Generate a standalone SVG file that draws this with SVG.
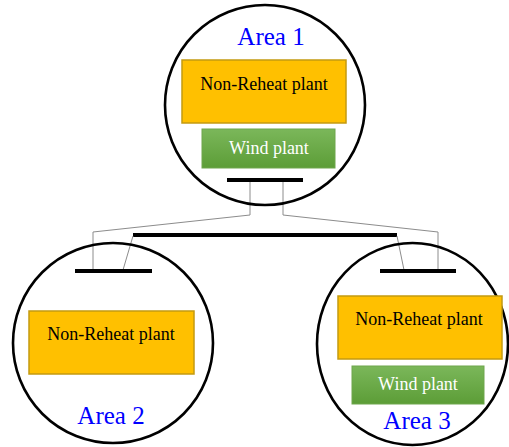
<svg xmlns="http://www.w3.org/2000/svg" width="509" height="447" viewBox="0 0 509 447">
<defs>
<linearGradient id="g" x1="0" y1="0" x2="0" y2="1">
<stop offset="0" stop-color="#7BB75A"/>
<stop offset="1" stop-color="#5C9D37"/>
</linearGradient>
<style>
.area{fill:none;stroke:#000;stroke-width:2.6}
.np{fill:#FFC000;stroke:#C49A10;stroke-width:1.5}
.wp{fill:url(#g);stroke:#6EA64C;stroke-width:1}
.t{font-family:"Liberation Serif","Times New Roman",serif;font-size:18px;text-anchor:middle}
.tw{fill:#fff}
.lab{font-family:"Liberation Serif","Times New Roman",serif;font-size:25px;fill:#0000FF;text-anchor:middle}
.bus{stroke:#000;stroke-width:4}
.wire{fill:none;stroke:#8c8c8c;stroke-width:1}
</style>
</defs>
<rect width="509" height="447" fill="#fff"/>
<g id="connectors">
<line class="bus" x1="133" y1="235" x2="397" y2="235"/>
<polyline class="wire" points="250,181 250,215 93,232 93,270"/>
<polyline class="wire" points="283,181 283,215 438,232 438,270"/>
<line class="wire" x1="133" y1="236" x2="123" y2="270"/>
<line class="wire" x1="397" y1="236" x2="404" y2="270"/>
</g>
<g id="area1">
<circle class="area" cx="265" cy="105" r="100"/>
<text class="lab" x="271" y="45">Area 1</text>
<rect class="np" x="182" y="60" width="164" height="63"/>
<text class="t" x="264" y="90">Non-Reheat plant</text>
<rect class="wp" x="202" y="129" width="133" height="39"/>
<text class="t tw" x="269" y="154">Wind plant</text>
<line class="bus" x1="227" y1="180" x2="303" y2="180"/>
</g>
<g id="area2">
<circle class="area" cx="113" cy="343" r="100"/>
<text class="lab" x="111" y="424">Area 2</text>
<rect class="np" x="29" y="311" width="165" height="63"/>
<text class="t" x="111" y="340">Non-Reheat plant</text>
<line class="bus" x1="75" y1="271" x2="152" y2="271"/>
</g>
<g id="area3">
<ellipse class="area" cx="412.5" cy="344" rx="95.5" ry="101"/>
<text class="lab" x="417" y="429">Area 3</text>
<rect class="np" x="338" y="296" width="164" height="63"/>
<text class="t" x="419" y="325">Non-Reheat plant</text>
<rect class="wp" x="352" y="366" width="132" height="38"/>
<text class="t tw" x="418" y="390">Wind plant</text>
<line class="bus" x1="380" y1="271" x2="456" y2="271"/>
</g>
</svg>
